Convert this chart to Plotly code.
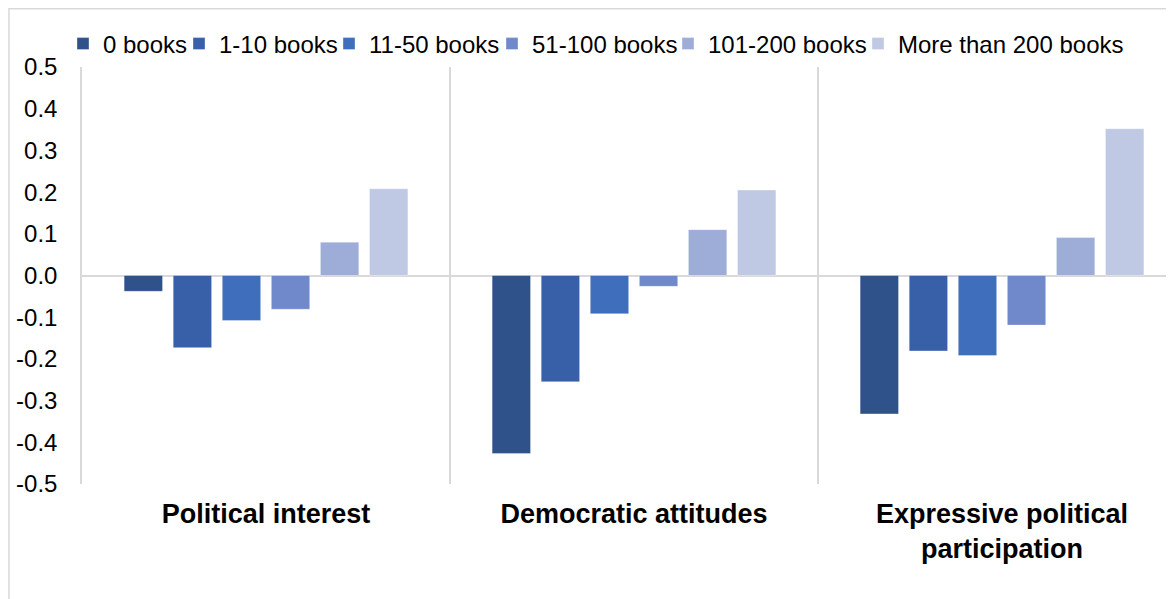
import plotly.graph_objects as go

categories = ["Political interest", "Democratic attitudes", "Expressive political<br>participation"]
series_names = ["0 books", "1-10 books", "11-50 books", "51-100 books", "101-200 books", "More than 200 books"]
values_0 = [-0.038, -0.427, -0.332]
values_1_10 = [-0.173, -0.255, -0.181]
values_11_50 = [-0.108, -0.092, -0.192]
values_51_100 = [-0.081, -0.026, -0.119]
values_101_200 = [0.080, 0.110, 0.091]
values_200_plus = [0.208, 0.205, 0.352]
series_values = [values_0, values_1_10, values_11_50, values_51_100, values_101_200, values_200_plus]
colors = ["#2F528A", "#3760A8", "#3F6EBC", "#6F89CB", "#9EADD8", "#BFC9E4"]
y_tick_vals = [0.5, 0.4, 0.3, 0.2, 0.1, 0.0, -0.1, -0.2, -0.3, -0.4, -0.5]
y_tick_text = [f"{v:.1f}" for v in y_tick_vals]

FONT = "Liberation Sans, Arial, sans-serif"

# figure sits inside the page's 8px body margin
W, H = 1166, 591
ml, mr, mt, mb = 74, 0, 59, 115
pw = W - ml - mr
ph = H - mt - mb
CAT_W = 368.0

def px_x(p):
    return (p - ml) / pw

def px_y(p):
    return (H - mb - p) / ph

legend_ids = ["legend", "legend2", "legend3", "legend4", "legend5", "legend6"]
legend_left_px = [55, 171, 321, 484, 660, 850]

fig = go.Figure()
for name, vals, col, lid in zip(series_names, series_values, colors, legend_ids):
    fig.add_trace(go.Bar(
        name=name, x=categories, y=vals, legend=lid,
        marker=dict(color=col, line=dict(color="rgba(255,255,255,0.35)", width=1)),
    ))

legend_layouts = {}
for lid, lx in zip(legend_ids, legend_left_px):
    legend_layouts[lid] = dict(
        orientation="h", x=px_x(lx), xanchor="left", y=px_y(36), yanchor="middle",
        font=dict(family=FONT, size=24, color="#000000"),
        bgcolor="rgba(0,0,0,0)", itemwidth=30,
    )

fig.update_layout(
    width=W, height=H,
    margin=dict(l=ml, r=mr, t=mt, b=mb, pad=0),
    paper_bgcolor="white", plot_bgcolor="white",
    barmode="group", bargap=0.2, bargroupgap=0.217,
    font=dict(family=FONT, color="#000000", size=24),
    showlegend=True,
    xaxis=dict(
        type="category", range=[-0.5, -0.5 + pw / CAT_W],
        tickson="boundaries", ticks="", showgrid=True,
        gridcolor="#D9D9D9", gridwidth=1.5,
        showline=False, zeroline=False,
        tickfont=dict(family=FONT, size=27, color="#000000", weight="bold"),
        ticklabelstandoff=11,
    ),
    yaxis=dict(
        range=[-0.5, 0.5], tickvals=y_tick_vals, ticktext=y_tick_text,
        showgrid=False, zeroline=True, zerolinecolor="#D9D9D9", zerolinewidth=2,
        showline=True, linecolor="#D9D9D9", linewidth=1.5,
        ticks="", tickfont=dict(family=FONT, size=24, color="#000000"),
        ticklabelstandoff=18,
    ),
    shapes=[dict(
        type="rect", xref="paper", yref="paper",
        x0=px_x(1), x1=px_x(1180), y0=px_y(600), y1=px_y(0.75),
        line=dict(color="#D9D9D9", width=1.5), fillcolor="rgba(0,0,0,0)", layer="below",
    )],
    **legend_layouts,
)

fig.write_html("out.html")
